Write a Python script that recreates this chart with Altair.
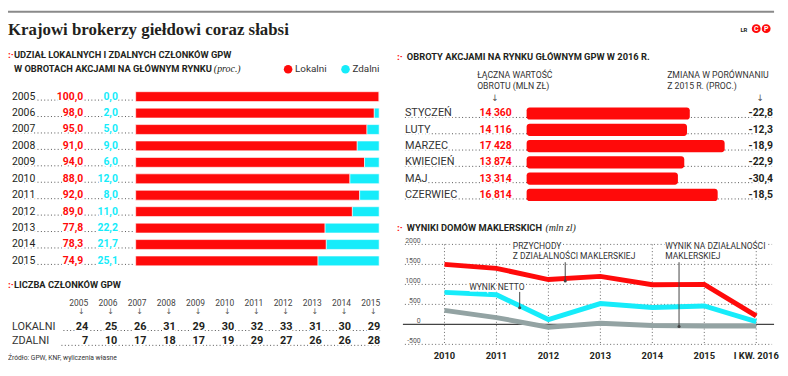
import altair as alt
import pandas as pd

# ---------------- data ----------------
years = ["2005", "2006", "2007", "2008", "2009", "2010", "2011", "2012", "2013", "2014", "2015"]
lokalni_pct = [100.0, 98.0, 95.0, 91.0, 94.0, 88.0, 92.0, 89.0, 77.8, 78.3, 74.9]
zdalni_pct = [0.0, 2.0, 5.0, 9.0, 6.0, 12.0, 8.0, 11.0, 22.2, 21.7, 25.1]

lokalni_count = [24, 25, 26, 31, 29, 30, 32, 33, 31, 30, 29]
zdalni_count = [7, 10, 17, 18, 17, 19, 29, 27, 26, 26, 28]

months = ["STYCZEŃ", "LUTY", "MARZEC", "KWIECIEŃ", "MAJ", "CZERWIEC"]
turnover = [14360, 14116, 17428, 13874, 13314, 16814]
change_pct = [-22.8, -12.3, -18.9, -22.9, -30.4, -18.5]

periods = ["2010", "2011", "2012", "2013", "2014", "2015", "I KW. 2016"]
przychody = [1500, 1400, 1120, 1200, 990, 1000, 210]
wynik_netto = [800, 740, 120, 520, 420, 460, 70]
wynik_dzialalnosci = [350, 170, -70, 30, -30, -40, -40]
y_ticks = [2000, 1500, 1000, 500, 0, -500]

series_names = ["Lokalni", "Zdalni"]

# ---------------- style ----------------
RED = "#ff0a0a"
CYAN = "#16ecfa"
GREYL = "#93a3a3"
INK = "#231f20"
DOT = "#555555"
SANS = "Roboto"
SERIF = "Liberation Serif"
HEAD = 9.4
LEAD_DASH = [1, 2.4]


def X(v):
    return max(0, v - 4)


def Y(v):
    return v - 8


def one(**kw):
    return pd.DataFrame({k: [v] for k, v in kw.items()})


def label(text, x, y, size=10, weight="normal", color=INK, align="left",
          font=SANS, style="normal", halo=False):
    base = alt.Chart(one(t=text)).encode(
        x=alt.value(X(x)), y=alt.value(Y(y)), text="t:N")
    kw = dict(align=align, baseline="middle", fontSize=size,
              fontWeight=weight, font=font, fontStyle=style)
    out = []
    if halo:
        out.append(base.mark_text(fill="white", stroke="white", strokeWidth=3, **kw))
    out.append(base.mark_text(color=color, **kw))
    return out


def hrule(x1, x2, y, color=DOT, dash=LEAD_DASH, width=1):
    kw = dict(color=color, strokeWidth=width)
    if dash:
        kw["strokeDash"] = list(dash)
    return alt.Chart(one(a=0)).mark_rule(**kw).encode(
        x=alt.value(X(x1)), x2=alt.value(X(x2)), y=alt.value(Y(y)))


def vrule(x, y1, y2, color="#444444", width=1):
    return alt.Chart(one(a=0)).mark_rule(color=color, strokeWidth=width).encode(
        x=alt.value(X(x)), y=alt.value(Y(y1)), y2=alt.value(Y(y2)))


def dot(x, y, color="#444444", size=10):
    return alt.Chart(one(a=0)).mark_point(filled=True, color=color, size=size, opacity=1).encode(
        x=alt.value(X(x)), y=alt.value(Y(y)))


def marker(x, y):
    return label(":·", x, y, size=10, weight="bold", color=RED)


def fmt1(v):
    return f"{v:.1f}".replace(".", ",")


layers = []

# ---------------- header ----------------
layers.append(hrule(0, 778, 10, color="#8a8a8a", dash=None, width=2))
layers += label("Krajowi brokerzy giełdowi coraz słabsi", 1, 28, size=17,
                weight="bold", font=SERIF)
layers += label("LR", 744, 28, size=6, weight="bold")
for i, ch in enumerate(["C", "P"]):
    layers.append(dot(760 + i * 10, 27, color=RED, size=80))
    layers += label(ch, 760 + i * 10, 27, size=7, weight="bold", color="white", align="center")

# ---------------- panel 1: share bars ----------------
layers += marker(0, 54)
layers += label("UDZIAŁ LOKALNYCH I ZDALNYCH CZŁONKÓW GPW", 10, 54, size=HEAD, weight="bold")
layers += label("W OBROTACH AKCJAMI NA GŁÓWNYM RYNKU", 10, 68, size=HEAD, weight="bold")
layers += label("(proc.)", 212, 68, size=10, style="italic", font=SERIF)
for name, col, cx in zip(series_names, [RED, CYAN], [287, 345]):
    layers.append(dot(cx, 68, color=col, size=75))
    layers += label(name, cx + 7, 68, size=10, color="#333333")

p1 = pd.DataFrame({"year": years, "lok": lokalni_pct, "zd": zdalni_pct})
p1["base"] = 0.0
p1["total"] = p1["lok"] + p1["zd"]
p1["lok_t"] = [fmt1(v) for v in lokalni_pct]
p1["zd_t"] = [fmt1(v) for v in zdalni_pct]
ys1 = alt.Scale(domain=years, range=[Y(87.4), Y(270)], paddingInner=0.4, paddingOuter=0.2)
xs1 = alt.Scale(domain=[0, 100], range=[X(133), X(379)], nice=False, zero=False)
c1 = alt.Chart(p1)
Y1 = alt.Y("year:N", scale=ys1, axis=None)
panel1 = [
    c1.mark_rule(color=DOT, strokeDash=LEAD_DASH, strokeWidth=1, yOffset=3.5).encode(
        y=Y1, x=alt.value(X(10)), x2=alt.value(X(132))),
    c1.mark_bar(color=RED, stroke="white", strokeWidth=0.6).encode(
        y=Y1, x=alt.X("base:Q", scale=xs1, axis=None), x2="lok:Q"),
    c1.mark_bar(color=CYAN, stroke="white", strokeWidth=0.6).encode(
        y=Y1, x=alt.X("lok:Q", scale=xs1, axis=None), x2="total:Q"),
]
for field, x, align, col, w in [("year", 8, "left", INK, "normal"),
                                ("lok_t", 80, "right", RED, "bold"),
                                ("zd_t", 115, "right", CYAN, "bold")]:
    kw = dict(align=align, baseline="middle", fontSize=10.5, fontWeight=w, font=SANS)
    enc = dict(y=Y1, x=alt.value(X(x)), text=f"{field}:N")
    panel1.append(c1.mark_text(fill="white", stroke="white", strokeWidth=3, **kw).encode(**enc))
    panel1.append(c1.mark_text(color=col, **kw).encode(**enc))
layers.append(alt.layer(*panel1))

# ---------------- panel 2: member counts ----------------
layers += marker(0, 286)
layers += label("LICZBA CZŁONKÓW GPW", 10, 286, size=HEAD, weight="bold")
p2 = pd.DataFrame({"year": years, "lok": lokalni_count, "zd": zdalni_count})
xs2 = alt.Scale(type="point", domain=years, range=[X(85), X(380)], padding=0)
X2 = alt.X("year:N", scale=xs2, axis=None)
c2 = alt.Chart(p2)
panel2 = [
    c2.mark_text(align="right", baseline="middle", fontSize=8.5, font=SANS, color="#444444").encode(
        x=X2, y=alt.value(Y(304)), text="year:N"),
    c2.mark_text(align="center", baseline="middle", fontSize=8, font="DejaVu Sans",
                 color="#555555", text="↓", dx=-7).encode(x=X2, y=alt.value(Y(313))),
]
for field, yy in [("lok", 328), ("zd", 343)]:
    kw = dict(align="right", baseline="middle", fontSize=11, fontWeight="bold", font=SANS)
    enc = dict(x=X2, y=alt.value(Y(yy)), text=f"{field}:Q")
    panel2.append(c2.mark_text(fill="white", stroke="white", strokeWidth=3, **kw).encode(**enc))
    panel2.append(c2.mark_text(color=INK, **kw).encode(**enc))
layers.append(hrule(60, 380, 332))
layers.append(hrule(58, 380, 347))
layers.append(alt.layer(*panel2))
layers += label("LOKALNI", 8, 328, size=11, color="#333333", halo=True)
layers += label("ZDALNI", 8, 343, size=11, color="#333333", halo=True)
layers += label("Źródło: GPW, KNF, wyliczenia własne", 0, 360, size=6.8, color="#333333")

# ---------------- panel 3: monthly turnover ----------------
SUB = 8.8
layers += marker(397, 56)
layers += label("OBROTY AKCJAMI NA RYNKU GŁÓWNYM GPW W 2016 R.", 407, 56, size=HEAD, weight="bold")
layers += label("ŁĄCZNA WARTOŚĆ", 478, 74, size=SUB, color="#333333")
layers += label("OBROTU (MLN ZŁ)", 478, 84.5, size=SUB, color="#333333")
layers += label("↓", 496, 97, size=9, font="DejaVu Sans", color="#555555", align="center")
layers += label("ZMIANA W PORÓWNANIU", 670, 74, size=SUB, color="#333333")
layers += label("Z 2015 R. (PROC.)", 670, 84.5, size=SUB, color="#333333")
layers += label("↓", 764, 97, size=9, font="DejaVu Sans", color="#555555", align="center")

p3 = pd.DataFrame({"month": months, "val": turnover, "chg": change_pct})
p3["base"] = 0
p3["val_t"] = [f"{v:,}".replace(",", " ") for v in turnover]
p3["chg_t"] = [fmt1(v) for v in change_pct]
ys3 = alt.Scale(domain=months, range=[Y(104.5), Y(203.3)], paddingInner=0.25, paddingOuter=0.125)
xs3 = alt.Scale(domain=[0, 20000], range=[X(528), X(757.6)], nice=False, zero=False)
c3 = alt.Chart(p3)
Y3 = alt.Y("month:N", scale=ys3, axis=None)
panel3 = [
    c3.mark_rule(color=DOT, strokeDash=LEAD_DASH, strokeWidth=1, yOffset=4).encode(
        y=Y3, x=alt.value(X(405)), x2=alt.value(X(776))),
    c3.mark_bar(color=RED, cornerRadius=3).encode(
        y=Y3, x=alt.X("base:Q", scale=xs3, axis=None), x2="val:Q"),
]
for field, x, align, col, w, sz in [("month", 405, "left", "#333333", "normal", 11),
                                    ("val_t", 513, "right", RED, "bold", 10.5),
                                    ("chg_t", 777, "right", INK, "bold", 10.5)]:
    kw = dict(align=align, baseline="middle", fontSize=sz, fontWeight=w, font=SANS)
    enc = dict(y=Y3, x=alt.value(X(x)), text=f"{field}:N")
    panel3.append(c3.mark_text(fill="white", stroke="white", strokeWidth=3, **kw).encode(**enc))
    panel3.append(c3.mark_text(color=col, **kw).encode(**enc))
layers.append(alt.layer(*panel3))

# ---------------- panel 4: brokerage results ----------------
layers += marker(397, 228)
layers += label("WYNIKI DOMÓW MAKLERSKICH", 407, 228, size=HEAD, weight="bold")
layers += label("(mln zl)", 547, 228, size=10, style="italic", font=SERIF)

xs4 = alt.Scale(type="point", domain=periods, range=[X(445), X(760)], padding=0)
ys4 = alt.Scale(domain=[-500, 2000], range=[Y(346), Y(245)], nice=False, zero=False)
X4 = alt.X("period:N", scale=xs4, axis=None)
Y4 = alt.Y("v:Q", scale=ys4, axis=None)

ticks_df = pd.DataFrame({"v": y_ticks, "lbl": [str(t) for t in y_ticks]})
grid_df = ticks_df[ticks_df["v"] != 0]
zero_df = ticks_df[ticks_df["v"] == 0]
per_df = pd.DataFrame({"period": periods})

lines_df = {
    "gray": pd.DataFrame({"period": periods, "v": wynik_dzialalnosci}),
    "cyan": pd.DataFrame({"period": periods, "v": wynik_netto}),
    "red": pd.DataFrame({"period": periods, "v": przychody}),
}

panel4 = [
    alt.Chart(grid_df).mark_rule(color="#666666", strokeDash=LEAD_DASH, strokeWidth=1).encode(
        y=Y4, x=alt.value(X(405)), x2=alt.value(X(776))),
    alt.Chart(per_df).mark_rule(color="#666666", strokeDash=LEAD_DASH, strokeWidth=1).encode(
        x=X4, y=alt.value(Y(245)), y2=alt.value(Y(346))),
    alt.Chart(zero_df).mark_rule(color="#444444", strokeWidth=1.2).encode(
        y=Y4, x=alt.value(X(403)), x2=alt.value(X(778))),
    alt.Chart(ticks_df).mark_text(align="right", baseline="bottom", fontSize=7, font=SANS,
                                  color="#555555", dy=-0.5).encode(
        y=Y4, x=alt.value(X(421)), text="lbl:N"),
    alt.Chart(per_df).mark_text(align="center", baseline="middle", fontSize=9.5,
                                fontWeight="bold", font=SANS, color=INK).encode(
        x=X4, y=alt.value(Y(358)), text="period:N"),
    alt.Chart(lines_df["gray"]).mark_line(color=GREYL, strokeWidth=5).encode(x=X4, y=Y4),
    alt.Chart(lines_df["cyan"]).mark_line(color=CYAN, strokeWidth=5).encode(x=X4, y=Y4),
    alt.Chart(lines_df["red"]).mark_line(color=RED, strokeWidth=5).encode(x=X4, y=Y4),
]
layers.append(alt.layer(*panel4))

# annotations
ANN = 8.6
layers += label("PRZYCHODY", 514, 247, size=ANN, color="#333333", halo=True)
layers += label("Z DZIAŁALNOŚCI MAKLERSKIEJ", 514, 257, size=ANN, color="#333333", halo=True)
layers.append(vrule(567, 263, 282))
layers.append(dot(567, 282))
layers += label("WYNIK NETTO", 470, 288, size=ANN, color="#333333", halo=True)
layers.append(vrule(521, 293, 309))
layers.append(dot(521, 309))
layers += label("WYNIK NA DZIAŁALNOŚCI", 668, 247, size=ANN, color="#333333", halo=True)
layers += label("MAKLERSKIEJ", 668, 257, size=ANN, color="#333333", halo=True)
layers.append(vrule(682, 263, 328))
layers.append(dot(682, 328))

chart = alt.layer(*layers).resolve_scale(x="independent", y="independent").properties(
    width=780, height=358, padding=0,
    autosize=alt.AutoSizeParams(type="none"),
    background="white",
).configure_view(stroke=None)

chart.save("out.html", embed_options={"renderer": "svg", "actions": False})
